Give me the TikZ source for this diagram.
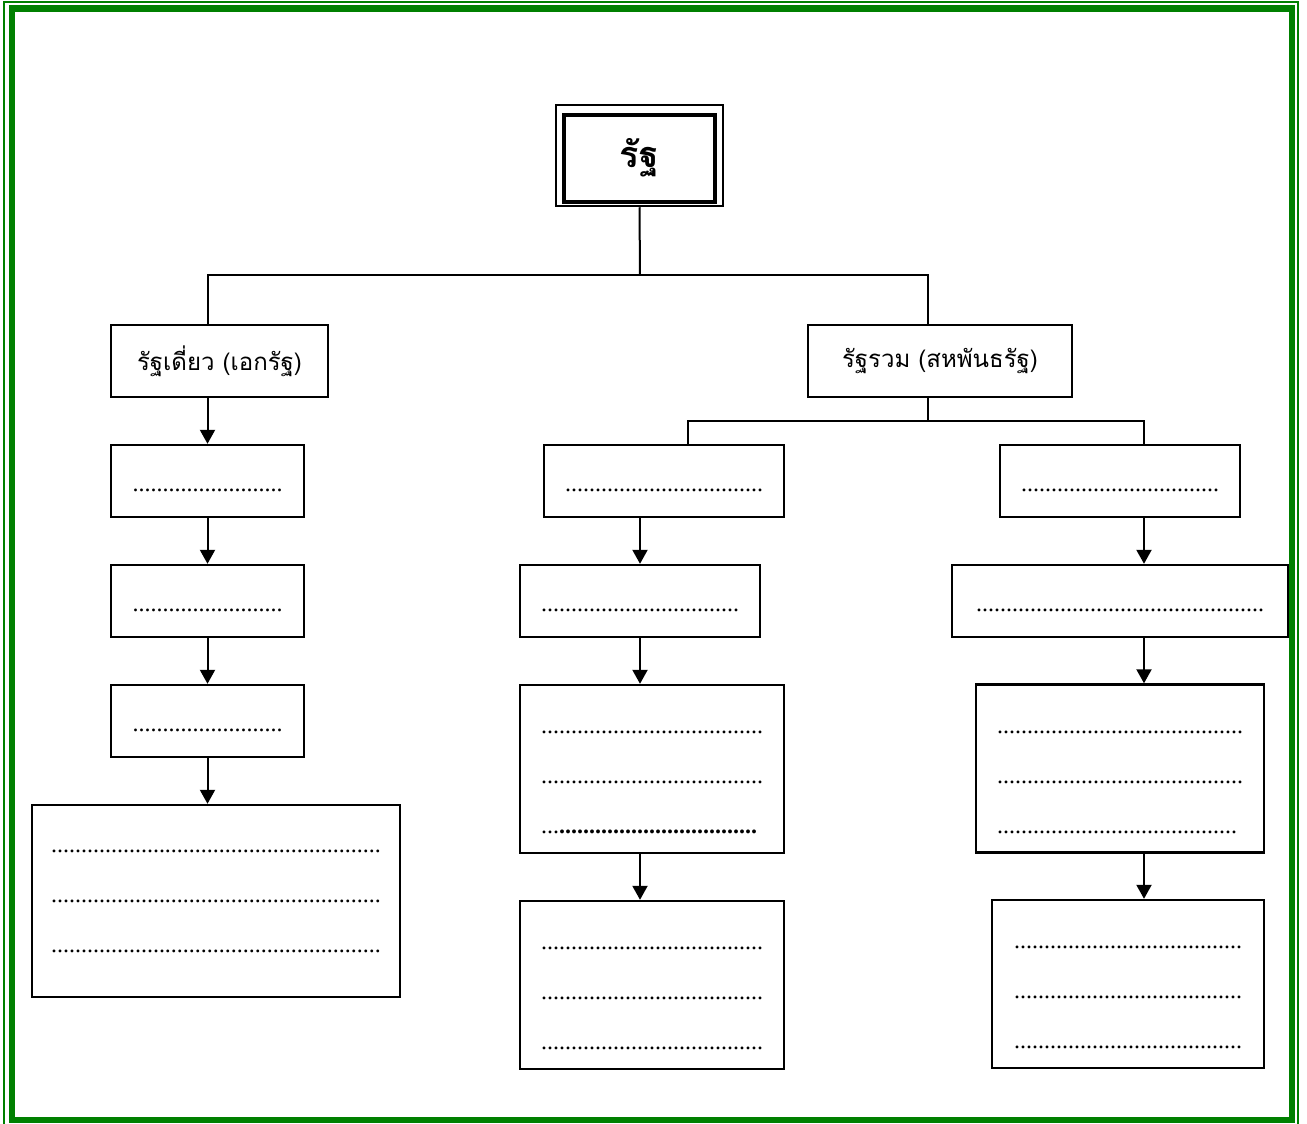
\documentclass[tikz,border=0pt]{standalone}
\usepackage{fontspec}
\setmainfont{Liberation Serif}
\newfontfamily\thaifont[Script=Thai]{Loma}
\usetikzlibrary{arrows.meta}

\definecolor{framegreen}{RGB}{0,128,0}

\newcommand\dotrow[1]{\foreach\d in {1,...,#1}{.}}
\newcommand\topstrut{\rule{0pt}{30pt}}

\tikzset{
  frame/.style={draw=framegreen},
  statebox/.style={draw, rectangle, inner sep=0pt},
  headbox/.style={draw, rectangle, line width=2.4pt, minimum height=72pt,
    inner sep=0pt, font=\thaifont\fontsize{24}{28}\selectfont},
  dotbox/.style={draw, rectangle, line width=2.4pt, minimum height=72pt,
    inner sep=0pt, align=left, font=\fontsize{24}{50}\selectfont,
    execute at begin node=\rule{0pt}{22pt}},
  tallbox/.style={dotbox, minimum height=168pt},
}

\begin{document}
\begin{tikzpicture}[x=1pt, y=-1pt, line width=2pt,
    >={Triangle[width=15pt, length=14pt]}]
  \useasboundingbox (0,0) rectangle (1307,1124);

  % green frame
  \draw [frame, line width=6.5pt] (12,8.5) rectangle (1292,1120);
  \draw [frame, line width=2pt] (4,1124) -- (4,2.5) -- (1298,2.5) -- (1298,1124);

  % top
  \node [statebox, line width=2.5pt, minimum width=167pt, minimum height=101pt] (statebox) at (639.5,155.5) {};
  \node [statebox, line width=4pt, minimum width=151.5pt, minimum height=87pt,
    font=\thaifont\bfseries\fontsize{36}{40}\selectfont] (state) at (639.5,158) {รัฐ};

  \node [headbox, minimum width=217pt] (unitary) at (219.5,361) {รัฐเดี่ยว (เอกรัฐ)};
  \node [headbox, minimum width=264pt] (federal) at (940,361) {รัฐรวม (สหพันธรัฐ)};

  % left column
  \node [dotbox, minimum width=193pt] (l1) at (207.5,481) {\dotrow{25}};
  \node [dotbox, minimum width=193pt] (l2) at (207.5,601) {\dotrow{25}};
  \node [dotbox, minimum width=193pt] (l3) at (207.5,721) {\dotrow{25}};
  \node [tallbox, minimum width=368pt, minimum height=192pt] (l4) at (216,901)
    {\dotrow{55}\\\dotrow{55}\\\dotrow{55}};

  % middle column
  \node [dotbox, minimum width=240pt] (m1) at (664,481) {\dotrow{33}};
  \node [dotbox, minimum width=240pt] (m2) at (640,601) {\dotrow{33}};
  \node [tallbox, minimum width=264pt] (m3) at (652,769)
    {\topstrut\dotrow{37}\\\dotrow{37}\\\dotrow{3}{\bfseries\dotrow{33}}};
  \node [tallbox, minimum width=264pt] (m4) at (652,985)
    {\topstrut\dotrow{37}\\\dotrow{37}\\\dotrow{37}};

  % right column
  \node [dotbox, minimum width=240pt] (r1) at (1120,481) {\dotrow{33}};
  \node [dotbox, minimum width=336pt] (r2) at (1120,601) {\dotrow{48}};
  \node [tallbox, minimum width=288pt] (r3) at (1120,768.5)
    {\topstrut\dotrow{41}\\\dotrow{41}\\\dotrow{40}};
  \node [tallbox, minimum width=272pt] (r4) at (1128,984)
    {\topstrut\dotrow{38}\\\dotrow{38}\\\dotrow{38}};

  % tree lines
  \coordinate (split) at (640,275);
  \draw (statebox.south) -- (split);
  \draw (split) -| (l1.north |- unitary.north);
  \draw (split) -| ([xshift=-12pt]federal.north);

  \coordinate (fedsplit) at (928,421);
  \draw ([xshift=-12pt]federal.south) -- (fedsplit);
  \draw (fedsplit) -| ([xshift=24pt]m1.north);
  \draw (fedsplit) -| ([xshift=24pt]r1.north);

  % arrows
  \draw [->] (l1.north |- unitary.south) -- (l1.north);
  \draw [->] (l1.south) -- (l2.north);
  \draw [->] (l2.south) -- (l3.north);
  \draw [->] (l3.south) -- (l3.south |- l4.north);

  \draw [->] (m2.north |- m1.south) -- (m2.north);
  \draw [->] (m2.south) -- (m2.south |- m3.north);
  \draw [->] (m2.south |- m3.south) -- (m2.south |- m4.north);

  \draw [->] ([xshift=24pt]r1.south) -- ([xshift=24pt]r2.north);
  \draw [->] ([xshift=24pt]r2.south) -- ([xshift=24pt]r3.north);
  \draw [->] ([xshift=24pt]r3.south) -- ([xshift=16pt]r4.north);
\end{tikzpicture}
\end{document}
